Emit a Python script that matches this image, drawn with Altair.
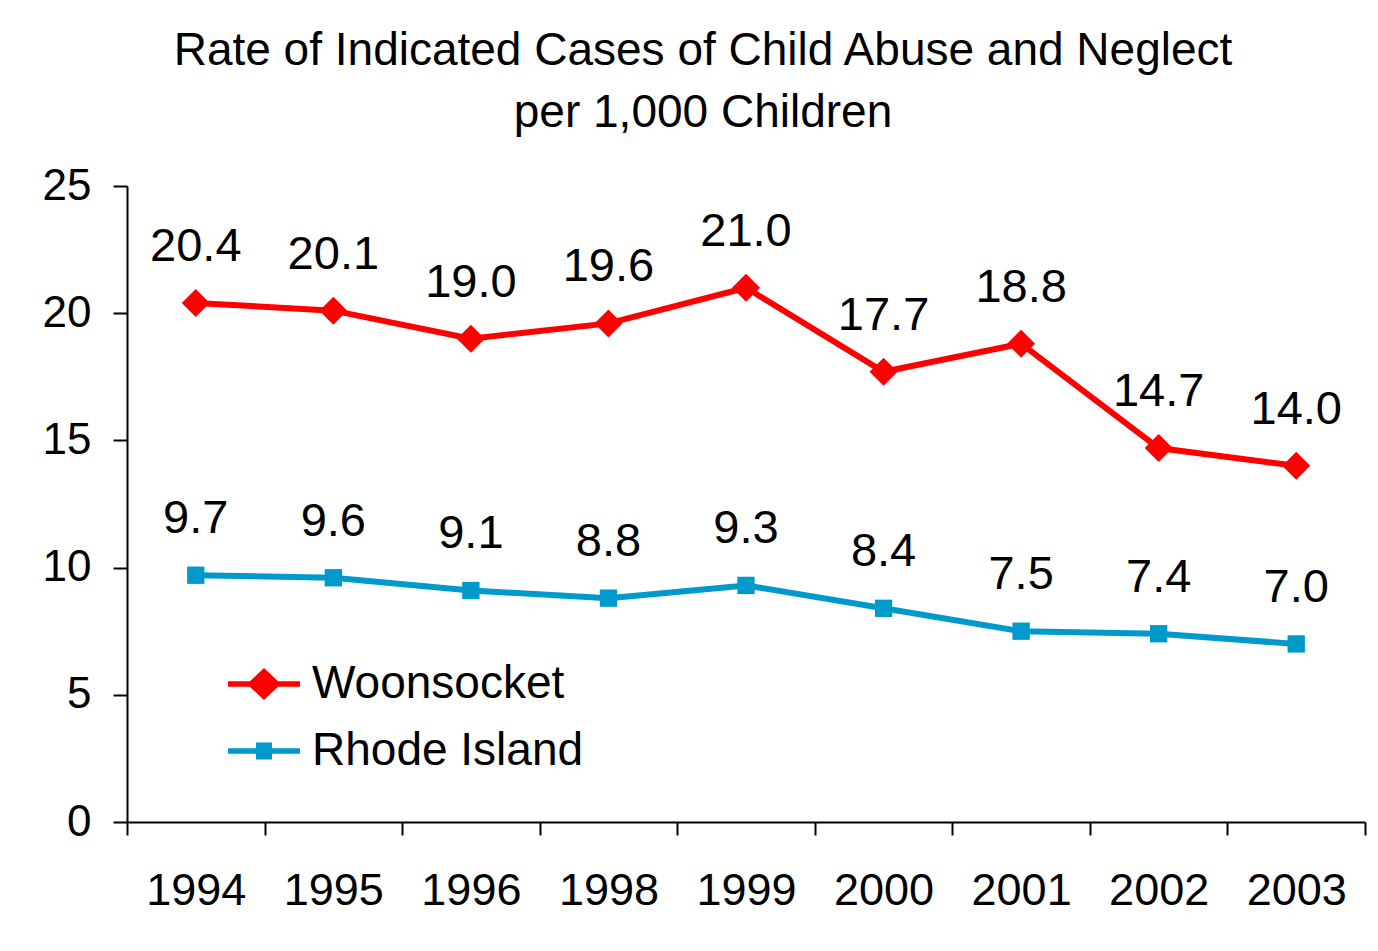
import altair as alt
import pandas as pd

years = ["1994", "1995", "1996", "1998", "1999", "2000", "2001", "2002", "2003"]
woonsocket = [20.4, 20.1, 19.0, 19.6, 21.0, 17.7, 18.8, 14.7, 14.0]
rhode_island = [9.7, 9.6, 9.1, 8.8, 9.3, 8.4, 7.5, 7.4, 7.0]
series_names = ["Woonsocket", "Rhode Island"]
series_colors = ["#FF0000", "#0099CC"]
y_ticks = [0, 5, 10, 15, 20, 25]
title_lines = ["Rate of Indicated Cases of Child Abuse and Neglect", "per 1,000 Children"]

rows = []
for yr, w, r in zip(years, woonsocket, rhode_island):
    rows.append({"year": yr, "series": series_names[0], "value": w, "label": f"{w:.1f}"})
    rows.append({"year": yr, "series": series_names[1], "value": r, "label": f"{r:.1f}"})
df = pd.DataFrame(rows)

FONT = "Liberation Sans"

# legend symbols: line segment with marker (unit space, r = sqrt(size)/2)
path_w = "M-1.44,-0.11L1.44,-0.11L1.44,0.11L-1.44,0.11Z M0,-0.64L0.68,0L0,0.64L-0.68,0Z"
path_r = "M-1.44,-0.11L1.44,-0.11L1.44,0.11L-1.44,0.11Z M-0.32,-0.34L0.32,-0.34L0.32,0.34L-0.32,0.34Z"

x_enc = alt.X(
    "year:N",
    sort=years,
    scale=alt.Scale(type="band", paddingInner=0, paddingOuter=0),
    axis=alt.Axis(
        title=None, labelAngle=0, tickBand="extent", labelFont=FONT, labelFontSize=45,
        labelColor="black", tickSize=13, tickWidth=2, tickColor="black",
        domainColor="black", domainWidth=2, labelPadding=33,
    ),
)
y_enc = alt.Y(
    "value:Q",
    scale=alt.Scale(domain=[0, 25], nice=False, zero=True),
    axis=alt.Axis(
        title=None, values=y_ticks, grid=False, labelFont=FONT, labelFontSize=44,
        labelColor="black", tickSize=14, tickWidth=2, tickColor="black",
        domainColor="black", domainWidth=2, labelPadding=22,
    ),
)

base = alt.Chart(df).encode(x=x_enc, y=y_enc)

layers = []
for name, col, shape, size in [
    (series_names[0], series_colors[0], "diamond", 784),
    (series_names[1], series_colors[1], "square", 300),
]:
    sub = base.transform_filter(alt.datum.series == name)
    layers.append(sub.mark_line(color=col, strokeWidth=6))
    layers.append(sub.mark_point(shape=shape, filled=True, size=size, color=col, opacity=1, strokeWidth=0))

labels = base.mark_text(
    dy=-56, fontSize=47, font=FONT, color="black", align="center", baseline="middle"
).encode(text="label:N")
layers.append(labels)

legend_props = dict(
    orient="none", legendX=112, legendY=473, title=None, labelFont=FONT,
    labelFontSize=46, labelColor="black", symbolSize=2500, symbolStrokeWidth=0,
    labelOffset=23, rowPadding=19, padding=0, labelLimit=0,
)

legend_layer = base.transform_filter(alt.datum.value < -1000).mark_point(
    filled=True, opacity=1
).encode(
    color=alt.Color(
        "series:N",
        scale=alt.Scale(domain=series_names, range=series_colors),
        legend=alt.Legend(**legend_props),
    ),
    shape=alt.Shape(
        "series:N",
        scale=alt.Scale(domain=series_names, range=[path_w, path_r]),
        legend=alt.Legend(**legend_props),
    ),
)
layers.append(legend_layer)

chart = alt.layer(*layers).properties(
    width=1238,
    height=636,
    title=alt.TitleParams(
        text=title_lines, font=FONT, fontSize=46, fontWeight="normal", lineHeight=62,
        anchor="middle", dx=-43, offset=27, color="black",
    ),
    autosize=alt.AutoSizeParams(type="none"),
    padding={"left": 119, "top": 178, "right": 5, "bottom": 121},
    background="white",
).configure_view(strokeOpacity=0)

chart.save("out.html", embed_options={"renderer": "svg", "actions": False})
